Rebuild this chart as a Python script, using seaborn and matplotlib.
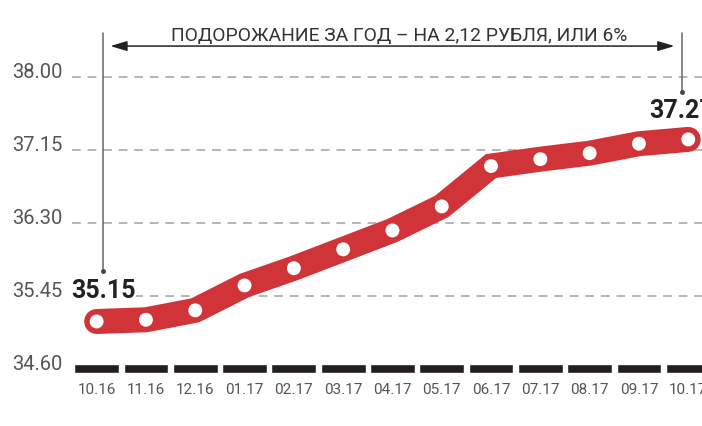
import numpy as np
import seaborn as sns
import matplotlib.pyplot as plt

# monthly price, rubles
months = ['10.16', '11.16', '12.16', '01.17', '02.17', '03.17', '04.17',
          '05.17', '06.17', '07.17', '08.17', '09.17', '10.17']
price = [35.15, 35.17, 35.28, 35.57, 35.77, 35.99, 36.21,
         36.49, 36.96, 37.04, 37.11, 37.22, 37.27]
yticks = [34.60, 35.45, 36.30, 37.15, 38.00]
title = 'ПОДОРОЖАНИЕ ЗА ГОД – НА 2,12 РУБЛЯ, ИЛИ 6%'

RED = '#d13438'
GREY = '#555555'

sns.set_style('white')
plt.rcParams['font.family'] = ['Roboto', 'DejaVu Sans']

fig = plt.figure(figsize=(7.02, 4.27), dpi=100)
ax = fig.add_axes([72 / 702, 51 / 427, 630 / 702, 376 / 427])

idx = np.arange(len(months))

# black baseline segments under each month
ax.bar(idx, 0.11, bottom=yticks[0] - 0.055, width=0.91, color='#231f20', zorder=2)

# thick red band + white dots
sns.lineplot(x=idx, y=price, color=RED, linewidth=18, ax=ax, zorder=3)
band = ax.lines[-1]
band.set_solid_capstyle('round')
band.set_solid_joinstyle('miter')
sns.scatterplot(x=idx, y=price, s=100, color='white', edgecolor='none', ax=ax, zorder=4)

ax.set_xlim(-0.5, -0.5 + 630 / 49.3)
ax.set_ylim(34.527, 38.905)

ax.set_xticks(idx)
ax.set_xticklabels(months, fontsize=11, color=GREY)
ax.set_yticks(yticks)
ax.set_yticklabels([f'{v:.2f}' for v in yticks], fontsize=14.5, color=GREY)
for lab in ax.get_yticklabels():
    lab.set_va('baseline')
ax.tick_params(axis='both', length=0)
ax.tick_params(axis='y', pad=7)
ax.tick_params(axis='x', pad=5)

ax.grid(axis='y', color='#b5b5b5', linewidth=1.4, linestyle=(0, (4.5, 3.5)))
ax.grid(axis='x', visible=False)
ax.yaxis.get_gridlines()[0].set_visible(False)
sns.despine(ax=ax, left=True, bottom=True)

# start / end markers
x_start, x_end = idx[0] + 0.136, idx[-1] - 0.13
top = 38.51
for x, y_end, y_lab, val in [(x_start, 35.74, 35.44, price[0]),
                             (x_end, 37.82, 37.53, price[-1])]:
    ax.plot([x, x], [top, y_end], color='#666666', lw=1.1, zorder=5, clip_on=False)
    ax.plot([x], [y_end], 'o', color='#444444', ms=2.5, zorder=5)
    ax.text(x, y_lab, f'{val:.2f}', ha='center', va='baseline', fontsize=18,
            fontweight='bold', color='#222222', zorder=6,
            bbox=dict(facecolor='white', edgecolor='none', pad=0.5))

ax.annotate('', xy=(idx[0] + 0.278, 38.357), xytext=(idx[-1] - 0.28, 38.357),
            arrowprops=dict(arrowstyle='<|-|>,head_length=1.0,head_width=0.3',
                            color='#222222', lw=1.1, shrinkA=0, shrinkB=0))
ax.text(6.14, 38.427, title, ha='center', va='baseline', fontsize=13.9, color='#333333')

fig.savefig('out.png', dpi=100)
